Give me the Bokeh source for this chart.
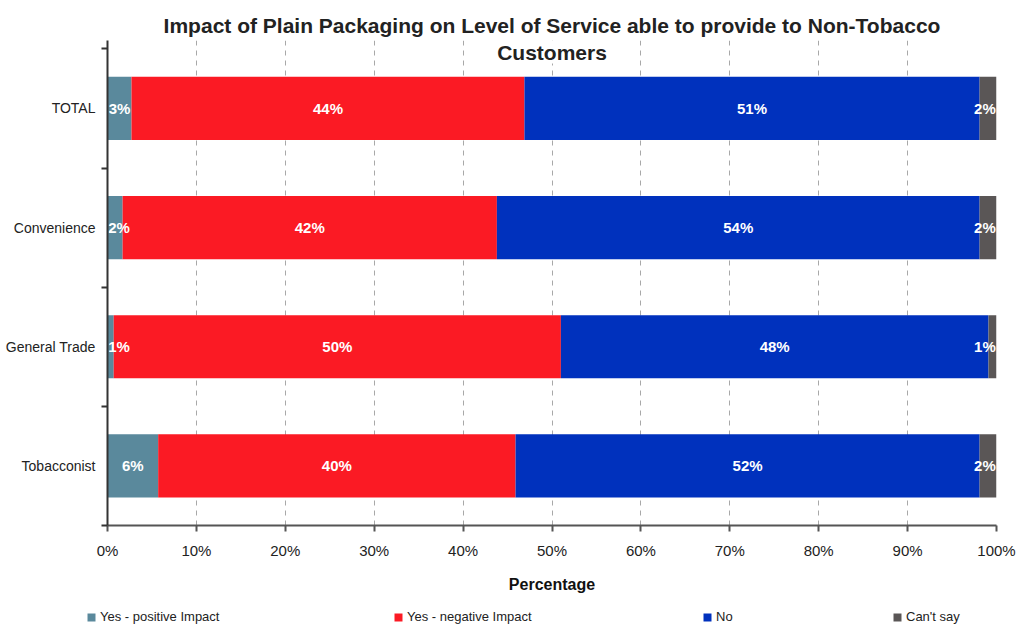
from bokeh.plotting import figure
from bokeh.models import ColumnDataSource, FixedTicker, Legend, LegendItem, Label, Title
from bokeh.layouts import column
from bokeh.core.properties import value
from bokeh.embed import file_html
from bokeh.resources import INLINE

categories = ["Tobacconist", "General Trade", "Convenience", "TOTAL"]
series = ["Yes - positive Impact", "Yes - negative Impact", "No", "Can't say"]
positive = [5.7, 0.7, 1.7, 2.7]
negative = [40.2, 50.3, 42.1, 44.2]
no = [52.2, 48.1, 54.3, 51.2]
cant_say = [1.9, 0.9, 1.9, 1.9]
colors = ["#5a899c", "#fb1a24", "#0031bd", "#5a5656"]
x_ticks = [0, 10, 20, 30, 40, 50, 60, 70, 80, 90, 100]
title_line1 = "Impact of Plain Packaging on Level of Service able to provide to Non-Tobacco"
title_line2 = "Customers"

FONT = "Liberation Sans"
Y_TOP = len(categories) + 0.07
X_MIN, X_MAX = 0, 100
LABEL_HALF = 1.3  # keep the value labels inside the axis span (data units)
BORDER_L, BORDER_R = 107, 25

p = figure(width=1021, height=600, output_backend="svg", toolbar_location=None,
           x_range=(X_MIN, X_MAX), y_range=(0, Y_TOP),
           min_border_left=BORDER_L, min_border_right=BORDER_R, min_border_top=40, min_border_bottom=75)
p.title = Title(text=title_line1, align="center", text_font=FONT, text_font_size="21px",
                text_font_style="bold", text_color="#222222", standoff=7, offset=0)
p.outline_line_color = None

ys = [i + 0.5 for i in range(len(categories))]
data_series = [positive, negative, no, cant_say]
sources = []
left = [0.0] * len(categories)
label_x, label_y, label_t = [], [], []
for vals, col in zip(data_series, colors):
    right = [l + v for l, v in zip(left, vals)]
    src = ColumnDataSource(dict(y=ys, left=left, right=right))
    sources.append(src)
    p.hbar(y="y", left="left", right="right", height=0.53, source=src,
           fill_color=col, line_color=None)
    for yy, l, rr, v in zip(ys, left, right, vals):
        cx = (l + rr) / 2
        label_x.append(min(max(cx, X_MIN + LABEL_HALF), X_MAX - LABEL_HALF))
        label_y.append(yy)
        label_t.append(f"{round(v)}%")
    left = right

lsrc = ColumnDataSource(dict(x=label_x, y=label_y, t=label_t))
p.text(x="x", y="y", text="t", source=lsrc, text_align="center", text_baseline="middle",
       text_color="white", text_font=value(FONT), text_font_style="bold", text_font_size="15px")

# second title line overlapping the top of the plot area, as in the original
p.add_layout(Label(x=(X_MIN + X_MAX) / 2, y=Y_TOP, text=title_line2, text_align="center",
                   text_baseline="top", y_offset=0, text_font=FONT, text_font_size="21px",
                   text_font_style="bold", text_color="#222222", background_fill_color="white"))

# x axis
p.xaxis.ticker = FixedTicker(ticks=x_ticks)
p.xaxis.major_label_overrides = {t: f"{t}%" for t in x_ticks}
p.xaxis.axis_label = "Percentage"
p.xaxis.axis_label_text_font = FONT
p.xaxis.axis_label_text_font_size = "16px"
p.xaxis.axis_label_text_font_style = "bold"
p.xaxis.axis_label_text_color = "#111111"
p.xaxis.axis_label_standoff = 14
p.xaxis.major_label_text_font = FONT
p.xaxis.major_label_text_font_size = "15px"
p.xaxis.major_label_text_color = "#222222"
p.xaxis.major_label_standoff = 10
p.xaxis.major_tick_out = 6
p.xaxis.major_tick_in = 0
p.xaxis.minor_tick_line_color = None
p.xaxis.axis_line_width = 2
p.xaxis.axis_line_color = "#555555"
p.xaxis.major_tick_line_width = 2
p.xaxis.major_tick_line_color = "#555555"

# y axis: labels at band centres, ticks at band boundaries
p.yaxis.ticker = FixedTicker(ticks=ys, minor_ticks=list(range(len(categories) + 1)))
p.yaxis.major_label_overrides = {yy: c for yy, c in zip(ys, categories)}
p.yaxis.major_tick_out = 0
p.yaxis.major_tick_in = 0
p.yaxis.minor_tick_out = 6
p.yaxis.minor_tick_in = 0
p.yaxis.minor_tick_line_width = 2
p.yaxis.minor_tick_line_color = "#333333"
p.yaxis.axis_line_width = 2
p.yaxis.axis_line_color = "#333333"
p.yaxis.major_label_text_font = FONT
p.yaxis.major_label_text_font_size = "14px"
p.yaxis.major_label_text_color = "#222222"
p.yaxis.major_label_standoff = 6

p.ygrid.grid_line_color = None
p.xgrid.grid_line_color = "#a8a8a8"
p.xgrid.grid_line_dash = "5 5"
p.xgrid.grid_line_width = 1

# legend strip below the chart (its own full-width frame)
lp = figure(width=1021, height=26, output_backend="svg", toolbar_location=None,
            x_range=(0, 1), y_range=(0, 1), min_border=0, frame_align=False,
            x_axis_location=None, y_axis_location=None)
lp.outline_line_color = None
lp.grid.visible = False
legend_x = [86, 393, 702, 892]
for name, col, src, lx in zip(series, colors, sources, legend_x):
    proxy = lp.hbar(y="y", left="left", right="right", height=0.53, source=src,
                    fill_color=col, line_color=None, visible=False)
    lg = Legend(items=[LegendItem(label=name, renderers=[proxy])], location=(lx, 2),
                orientation="horizontal", glyph_width=10, glyph_height=10, label_standoff=4,
                padding=0, margin=0, border_line_color=None, background_fill_alpha=0,
                inactive_fill_alpha=0, click_policy="none",
                label_text_font=FONT, label_text_font_size="13px", label_text_color="#222222",
                label_height=14)
    lp.add_layout(lg, "center")

layout = column(p, lp, spacing=0)
open("out.html", "w").write(file_html(layout, INLINE))
